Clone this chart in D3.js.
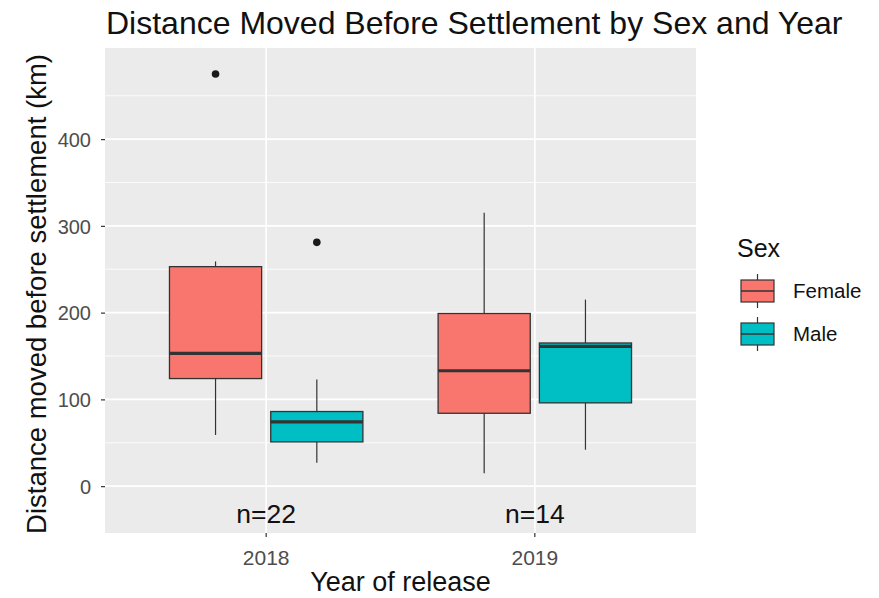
<!DOCTYPE html>
<html>
<head>
<meta charset="utf-8">
<script src="https://cdn.jsdelivr.net/npm/d3@7"></script>
<style>
  body { margin: 0; background: #fff; }
  svg text { font-family: "Liberation Sans", Arial, sans-serif; }
</style>
</head>
<body>
<svg id="chart" width="879" height="598"></svg>
<script>
// Release years and sexes
const years = ["2018", "2019"];
const sexes = ["Female", "Male"];
const sexColors = ["#F8766D", "#00BFC4"];

// Box summaries per year, ordered Female then Male
const lowerWhisker = [[59, 27], [15, 42]];
const lowerHinge   = [[124, 51], [84, 96]];
const medians      = [[153, 74], [133, 161]];
const upperHinge   = [[253, 86], [199, 165]];
const upperWhisker = [[259, 123], [315, 215]];
const outliers     = [[[475], [281]], [[], []]];

// Sample size per year
const sampleSizes = ["n=22", "n=14"];
const yTicks = [0, 100, 200, 300, 400];
const yMinor = [50, 150, 250, 350, 450];

const svg = d3.select("#chart");
const panel = { left: 105, right: 696, top: 48, bottom: 533 };

// discrete x positions with 0.6 unit expansion on each side
const unit = (panel.right - panel.left) / 2.2;
const x = d3.scalePoint().domain(years)
  .range([panel.left + 0.6 * unit, panel.right - 0.6 * unit]).padding(0);
const dodge = d3.scaleBand().domain(sexes).range([-unit * 0.36, unit * 0.36]).paddingInner(0.09);

const y = d3.scaleLinear().domain([-54, 505]).range([panel.bottom, panel.top]);

// panel background and grid
svg.append("rect").attr("x", panel.left).attr("y", panel.top)
  .attr("width", panel.right - panel.left).attr("height", panel.bottom - panel.top)
  .attr("fill", "#EBEBEB");
svg.append("g").selectAll("line").data(yMinor).join("line")
  .attr("x1", panel.left).attr("x2", panel.right)
  .attr("y1", d => y(d)).attr("y2", d => y(d))
  .attr("stroke", "#fff").attr("stroke-width", 0.8);
svg.append("g").selectAll("line").data(yTicks).join("line")
  .attr("x1", panel.left).attr("x2", panel.right)
  .attr("y1", d => y(d)).attr("y2", d => y(d))
  .attr("stroke", "#fff").attr("stroke-width", 1.7);
svg.append("g").selectAll("line").data(years).join("line")
  .attr("x1", d => x(d)).attr("x2", d => x(d))
  .attr("y1", panel.top).attr("y2", panel.bottom)
  .attr("stroke", "#fff").attr("stroke-width", 1.7);

// boxes
const boxes = [];
years.forEach((yr, i) => sexes.forEach((s, j) => boxes.push({
  yr, s, color: sexColors[j],
  lw: lowerWhisker[i][j], lh: lowerHinge[i][j], med: medians[i][j],
  uh: upperHinge[i][j], uw: upperWhisker[i][j], out: outliers[i][j]
})));

const bw = dodge.bandwidth();
const g = svg.append("g");
boxes.forEach(b => {
  const x0 = x(b.yr) + dodge(b.s);
  const cx = x0 + bw / 2;
  g.append("line").attr("x1", cx).attr("x2", cx).attr("y1", y(b.uh)).attr("y2", y(b.uw))
    .attr("stroke", "#333").attr("stroke-width", 1.2);
  g.append("line").attr("x1", cx).attr("x2", cx).attr("y1", y(b.lh)).attr("y2", y(b.lw))
    .attr("stroke", "#333").attr("stroke-width", 1.2);
  g.append("rect").attr("x", x0).attr("y", y(b.uh)).attr("width", bw)
    .attr("height", y(b.lh) - y(b.uh)).attr("fill", b.color)
    .attr("stroke", "#333").attr("stroke-width", 1.3);
  g.append("line").attr("x1", x0).attr("x2", x0 + bw).attr("y1", y(b.med)).attr("y2", y(b.med))
    .attr("stroke", "#333").attr("stroke-width", 3.2);
  b.out.forEach(o => g.append("circle").attr("cx", cx).attr("cy", y(o)).attr("r", 3.8).attr("fill", "#1a1a1a"));
});

// sample size labels
svg.append("g").selectAll("text").data(years).join("text")
  .attr("x", d => x(d)).attr("y", y(-42))
  .attr("text-anchor", "middle").attr("font-size", 26.5).attr("fill", "#111")
  .text((d, i) => sampleSizes[i]);

// axes
const yAxis = svg.append("g").attr("transform", `translate(${panel.left},0)`)
  .call(d3.axisLeft(y).tickValues(yTicks).tickSize(4).tickPadding(10));
yAxis.select(".domain").remove();
yAxis.selectAll("line").attr("stroke", "#333").attr("stroke-width", 1.2);
yAxis.selectAll("text").attr("font-size", 20).attr("fill", "#4D4D4D").attr("dy", "0.36em");

const xAxisG = svg.append("g").attr("transform", `translate(0,${panel.bottom})`);
years.forEach(d => {
  xAxisG.append("line").attr("x1", x(d)).attr("x2", x(d)).attr("y1", 0).attr("y2", 4)
    .attr("stroke", "#333").attr("stroke-width", 1.2);
  xAxisG.append("text").attr("x", x(d)).attr("y", 32).attr("text-anchor", "middle")
    .attr("font-size", 21).attr("fill", "#4D4D4D").text(d);
});

// titles
svg.append("text").attr("x", 106).attr("y", 34).attr("font-size", 32).attr("fill", "#111")
  .text("Distance Moved Before Settlement by Sex and Year");
svg.append("text").attr("x", (panel.left + panel.right) / 2).attr("y", 591)
  .attr("text-anchor", "middle").attr("font-size", 27).attr("fill", "#111").text("Year of release");
svg.append("text").attr("transform", `translate(46,294) rotate(-90)`)
  .attr("text-anchor", "middle").attr("font-size", 27.5).attr("fill", "#111")
  .text("Distance moved before settlement (km)");

// legend
const lg = svg.append("g").attr("transform", "translate(737,0)");
lg.append("text").attr("x", 0).attr("y", 257).attr("font-size", 25).attr("fill", "#111").text("Sex");
sexes.forEach((s, i) => {
  const ky = 280 + i * 43;
  const kx = 4, kw = 33, kh = 22;
  lg.append("line").attr("x1", kx + kw / 2).attr("x2", kx + kw / 2).attr("y1", ky - 6).attr("y2", ky + kh + 6)
    .attr("stroke", "#333").attr("stroke-width", 1.2);
  lg.append("rect").attr("x", kx).attr("y", ky).attr("width", kw).attr("height", kh)
    .attr("fill", sexColors[i]).attr("stroke", "#333").attr("stroke-width", 1.2);
  lg.append("line").attr("x1", kx).attr("x2", kx + kw).attr("y1", ky + kh / 2).attr("y2", ky + kh / 2)
    .attr("stroke", "#333").attr("stroke-width", 1.6);
  lg.append("text").attr("x", 56).attr("y", ky + kh / 2 + 7).attr("font-size", 20.5).attr("fill", "#111").text(s);
});
</script>
</body>
</html>
